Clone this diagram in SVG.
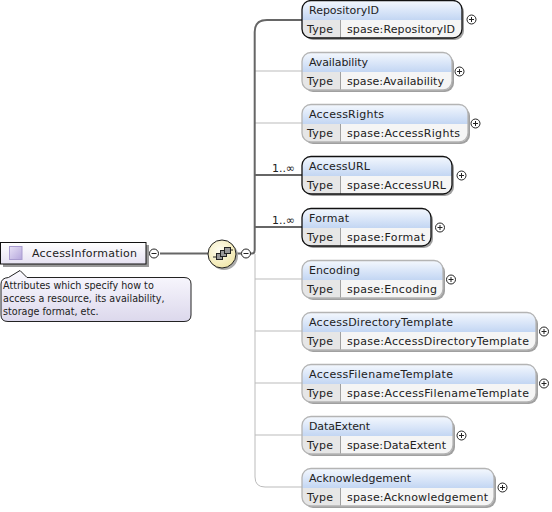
<svg xmlns="http://www.w3.org/2000/svg" width="552" height="512" viewBox="0 0 552 512">
<style>
text{font-family:"DejaVu Sans",sans-serif;font-size:11px;fill:#222}
.hd{fill:url(#hg)}
.ty{fill:#e6e6e6}
.vl{fill:#f5f5f5}
.sh{fill:#a0a0a0}
.b{fill:none;stroke-width:1.3}
.req{stroke:#111}
.opt{stroke:#b4b4b4}
.thick{fill:none;stroke:#666;stroke-width:2}
.thin{fill:none;stroke:#bbb;stroke-width:1}
.pm{fill:#fff;stroke:#222;stroke-width:1}
.pl{stroke:#222;stroke-width:1;fill:none}
.note{font-size:9.6px}
</style>
<defs>
<linearGradient id="hg" x1="0" y1="0" x2="0" y2="1"><stop offset="0" stop-color="#f4f8fe"/><stop offset="1" stop-color="#c3d6f3"/></linearGradient>
<linearGradient id="rg" x1="0" y1="0" x2="0" y2="1"><stop offset="0" stop-color="#ffffff"/><stop offset="1" stop-color="#e6e2f2"/></linearGradient>
<linearGradient id="ag" x1="0" y1="0" x2="0" y2="1"><stop offset="0" stop-color="#fbfaff"/><stop offset="1" stop-color="#dcd8ec"/></linearGradient>
<linearGradient id="ig" x1="0" y1="0" x2="1" y2="1"><stop offset="0" stop-color="#e8e2f6"/><stop offset="1" stop-color="#b4a6dc"/></linearGradient>
<radialGradient id="cg" cx="0.4" cy="0.35" r="0.7"><stop offset="0" stop-color="#fffdf0"/><stop offset="1" stop-color="#f0e6a8"/></radialGradient>
<g id="plus"><circle class="pm" r="4.5"/><path class="pl" d="M-2.500 0H2.500M0-2.500V2.500"/></g>
<g id="minus"><circle class="pm" r="4.5"/><path class="pl" d="M-2.500 0H2.500"/></g>
</defs>

<g id="connectors">
<path class="thin" d="M255 254V477Q255 487 265 487H302M255 71H302M255 123H302M255 279H302M255 331H302M255 383H302M255 435H302"/>
<path class="thick" d="M160 253.500H208M236 253.500H241M250 253.500H252Q254.700 253.500 254.700 250V32Q254.700 20 267 20H302M254.700 175H302M254.700 227H302"/>
<text x="272" y="172" textLength="23">1..∞</text>
<text x="272" y="224" textLength="23">1..∞</text>
</g>

<g id="AccessInformation">
<rect x="3" y="245" width="146" height="22" fill="#999"/>
<rect x="0.500" y="242.500" width="145.500" height="21.500" fill="url(#rg)" stroke="#111"/>
<rect x="9.500" y="246.500" width="12.500" height="13" fill="url(#ig)" stroke="#a99ccf"/>
<text x="32" y="257" textLength="105">AccessInformation</text>
<use href="#minus" x="154" y="253.500"/>
</g>

<g id="annotation">
<path d="M8.500 277.500L20 270.500L27 277.500H184Q191 277.500 191 284V315Q191 321.500 184 321.500H8Q1 321.500 1 315V284Q1 278 8.500 277.500Z" fill="url(#ag)" stroke="#222"/>
<text class="note" x="3" y="289">Attributes which specify how to</text>
<text class="note" x="3" y="302">access a resource, its availability,</text>
<text class="note" x="3" y="315">storage format, etc.</text>
</g>

<g id="compositor">
<circle cx="224" cy="256" r="14" fill="#aaa"/>
<circle cx="222" cy="254" r="14" fill="url(#cg)" stroke="#222"/>
<path d="M213 257H217M226 250H233" stroke="#222" fill="none"/>
<rect x="216.500" y="253.500" width="6" height="6" fill="#999" stroke="#222"/>
<rect x="220.500" y="250.500" width="6" height="6" fill="#999" stroke="#222"/>
<rect x="224.500" y="247.500" width="6" height="6" fill="#999" stroke="#222"/>
<use href="#minus" x="246" y="253.500"/>
</g>

<g id="RepositoryID">
<rect x="304" y="3" width="160" height="37" rx="9" class="sh"/>
<path class="hd" d="M311 0.500H453Q462 0.500 462 9.500V20H302V9.500Q302 0.500 311 0.500Z"/>
<path class="vl" d="M341 20H462V29Q462 38 453 38H341Z"/><path class="ty" d="M302 20H340V38H311Q302 38 302 29Z"/>
<rect x="302" y="0.500" width="160" height="37.500" rx="9" class="b req"/>
<text x="309" y="14" textLength="70">RepositoryID</text><text x="307" y="33" textLength="26">Type</text><text x="347" y="33" textLength="108">spase:RepositoryID</text>
<use href="#plus" x="471.500" y="19.500"/>
</g>

<g id="Availability">
<rect x="304" y="55" width="150" height="37" rx="9" class="sh"/>
<path class="hd" d="M311 52.500H443Q452 52.500 452 61.500V72H302V61.500Q302 52.500 311 52.500Z"/>
<path class="vl" d="M341 72H452V81Q452 90 443 90H341Z"/><path class="ty" d="M302 72H340V90H311Q302 90 302 81Z"/>
<rect x="302" y="52.500" width="150" height="37.500" rx="9" class="b opt"/>
<text x="309" y="66" textLength="59">Availability</text><text x="307" y="85" textLength="26">Type</text><text x="347" y="85" textLength="97">spase:Availability</text>
<use href="#plus" x="459.500" y="71.500"/>
</g>

<g id="AccessRights">
<rect x="304" y="107" width="166" height="37" rx="9" class="sh"/>
<path class="hd" d="M311 104.500H459Q468 104.500 468 113.500V124H302V113.500Q302 104.500 311 104.500Z"/>
<path class="vl" d="M341 124H468V133Q468 142 459 142H341Z"/><path class="ty" d="M302 124H340V142H311Q302 142 302 133Z"/>
<rect x="302" y="104.500" width="166" height="37.500" rx="9" class="b opt"/>
<text x="309" y="118" textLength="75">AccessRights</text><text x="307" y="137" textLength="26">Type</text><text x="347" y="137" textLength="113">spase:AccessRights</text>
<use href="#plus" x="475.500" y="123.500"/>
</g>

<g id="AccessURL">
<rect x="304" y="159" width="150" height="37" rx="9" class="sh"/>
<path class="hd" d="M311 156.500H443Q452 156.500 452 165.500V176H302V165.500Q302 156.500 311 156.500Z"/>
<path class="vl" d="M341 176H452V185Q452 194 443 194H341Z"/><path class="ty" d="M302 176H340V194H311Q302 194 302 185Z"/>
<rect x="302" y="156.500" width="150" height="37.500" rx="9" class="b req"/>
<text x="309" y="170" textLength="61">AccessURL</text><text x="307" y="189" textLength="26">Type</text><text x="347" y="189" textLength="99">spase:AccessURL</text>
<use href="#plus" x="461.500" y="175.500"/>
</g>

<g id="Format">
<rect x="304" y="211" width="129" height="37" rx="9" class="sh"/>
<path class="hd" d="M311 208.500H422Q431 208.500 431 217.500V228H302V217.500Q302 208.500 311 208.500Z"/>
<path class="vl" d="M341 228H431V237Q431 246 422 246H341Z"/><path class="ty" d="M302 228H340V246H311Q302 246 302 237Z"/>
<rect x="302" y="208.500" width="129" height="37.500" rx="9" class="b req"/>
<text x="309" y="222" textLength="40">Format</text><text x="307" y="241" textLength="26">Type</text><text x="347" y="241" textLength="78">spase:Format</text>
<use href="#plus" x="440" y="227.500"/>
</g>

<g id="Encoding">
<rect x="304" y="263" width="141" height="37" rx="9" class="sh"/>
<path class="hd" d="M311 260.500H434Q443 260.500 443 269.500V280H302V269.500Q302 260.500 311 260.500Z"/>
<path class="vl" d="M341 280H443V289Q443 298 434 298H341Z"/><path class="ty" d="M302 280H340V298H311Q302 298 302 289Z"/>
<rect x="302" y="260.500" width="141" height="37.500" rx="9" class="b opt"/>
<text x="309" y="274" textLength="51">Encoding</text><text x="307" y="293" textLength="26">Type</text><text x="347" y="293" textLength="90">spase:Encoding</text>
<use href="#plus" x="451" y="279.500"/>
</g>

<g id="AccessDirectoryTemplate">
<rect x="304" y="315" width="234" height="37" rx="9" class="sh"/>
<path class="hd" d="M311 312.500H527Q536 312.500 536 321.500V332H302V321.500Q302 312.500 311 312.500Z"/>
<path class="vl" d="M341 332H536V341Q536 350 527 350H341Z"/><path class="ty" d="M302 332H340V350H311Q302 350 302 341Z"/>
<rect x="302" y="312.500" width="234" height="37.500" rx="9" class="b opt"/>
<text x="309" y="326" textLength="144">AccessDirectoryTemplate</text><text x="307" y="345" textLength="26">Type</text><text x="347" y="345" textLength="182">spase:AccessDirectoryTemplate</text>
<use href="#plus" x="544" y="331.500"/>
</g>

<g id="AccessFilenameTemplate">
<rect x="304" y="367" width="234" height="37" rx="9" class="sh"/>
<path class="hd" d="M311 364.500H527Q536 364.500 536 373.500V384H302V373.500Q302 364.500 311 364.500Z"/>
<path class="vl" d="M341 384H536V393Q536 402 527 402H341Z"/><path class="ty" d="M302 384H340V402H311Q302 402 302 393Z"/>
<rect x="302" y="364.500" width="234" height="37.500" rx="9" class="b opt"/>
<text x="309" y="378" textLength="144">AccessFilenameTemplate</text><text x="307" y="397" textLength="26">Type</text><text x="347" y="397" textLength="182">spase:AccessFilenameTemplate</text>
<use href="#plus" x="544" y="383.500"/>
</g>

<g id="DataExtent">
<rect x="304" y="419" width="151" height="37" rx="9" class="sh"/>
<path class="hd" d="M311 416.500H444Q453 416.500 453 425.500V436H302V425.500Q302 416.500 311 416.500Z"/>
<path class="vl" d="M341 436H453V445Q453 454 444 454H341Z"/><path class="ty" d="M302 436H340V454H311Q302 454 302 445Z"/>
<rect x="302" y="416.500" width="151" height="37.500" rx="9" class="b opt"/>
<text x="309" y="430" textLength="61">DataExtent</text><text x="307" y="449" textLength="26">Type</text><text x="347" y="449" textLength="99">spase:DataExtent</text>
<use href="#plus" x="461.500" y="435.500"/>
</g>

<g id="Acknowledgement">
<rect x="304" y="471" width="192" height="37" rx="9" class="sh"/>
<path class="hd" d="M311 468.500H485Q494 468.500 494 477.500V488H302V477.500Q302 468.500 311 468.500Z"/>
<path class="vl" d="M341 488H494V497Q494 506 485 506H341Z"/><path class="ty" d="M302 488H340V506H311Q302 506 302 497Z"/>
<rect x="302" y="468.500" width="192" height="37.500" rx="9" class="b opt"/>
<text x="309" y="482" textLength="102">Acknowledgement</text><text x="307" y="501" textLength="26">Type</text><text x="347" y="501" textLength="141">spase:Acknowledgement</text>
<use href="#plus" x="502.500" y="487.500"/>
</g>
</svg>
